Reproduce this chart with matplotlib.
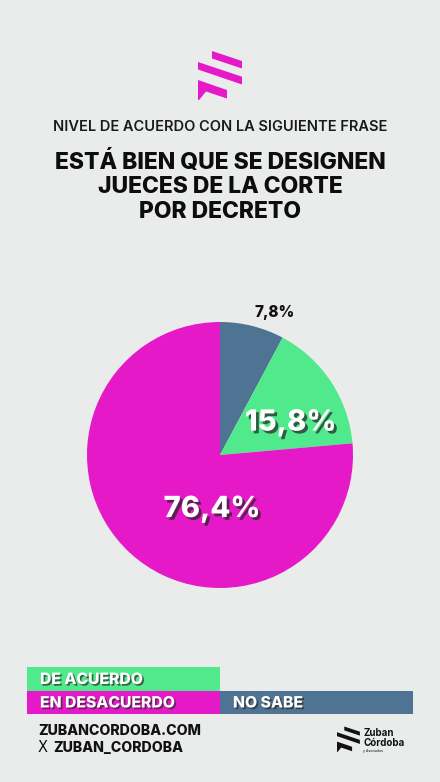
import matplotlib
matplotlib.use("Agg")
import matplotlib.pyplot as plt
from matplotlib.patches import Polygon, Rectangle
import matplotlib.patheffects as pe

# Datos del grafico
categorias = ["NO SABE", "DE ACUERDO", "EN DESACUERDO"]
valores = [7.8, 15.8, 76.4]
etiquetas = ["7,8%", "15,8%", "76,4%"]
colores = ["#4f7392", "#50ea8c", "#e619c9"]

subtitulo = "NIVEL DE ACUERDO CON LA SIGUIENTE FRASE"
titulo = ["ESTÁ BIEN QUE SE DESIGNEN", "JUECES DE LA CORTE", "POR DECRETO"]
web = "ZUBANCORDOBA.COM"
red = "ZUBAN_CORDOBA"

FONDO = "#e9eceb"
FUENTE = "Inter"
W, H = 440, 782

fig = plt.figure(figsize=(W / 100, H / 100), dpi=100, facecolor=FONDO)

# capa de fondo en coordenadas de pixel (y hacia abajo)
base = fig.add_axes([0, 0, 1, 1])
base.set_xlim(0, W)
base.set_ylim(H, 0)
base.axis("off")
base.set_facecolor(FONDO)

sombra = [pe.withSimplePatchShadow(offset=(1.2, -1.2), shadow_rgbFace="#2a2a2a", alpha=0.7)]


def logo(ax, x0, y0, esc, color):
    """Dibuja las tres franjas del logo a partir de la esquina (x0, y0)."""
    franjas = [
        [(14, 1), (44, 11), (44, 18.5), (14, 8.5)],
        [(0, 12), (44, 26.7), (44, 34.5), (0, 19.5)],
        [(0, 30), (29, 40), (29, 48.5), (8, 41.5), (1, 50), (0, 50)],
    ]
    for f in franjas:
        pts = [(x0 + px * esc, y0 + py * esc) for px, py in f]
        ax.add_patch(Polygon(pts, closed=True, color=color, lw=0))


logo(base, 198, 50, 1.0, colores[2])

base.text(W / 2, 127, subtitulo, ha="center", va="center", fontsize=10.5,
          family=FUENTE, weight="semibold", color="#1a1a1a")
for i, linea in enumerate(titulo):
    base.text(W / 2, 162 + i * 25, linea, ha="center", va="center", fontsize=16.5,
              family=FUENTE, weight="heavy", color="#0d0d0d")

# leyenda en bloques
leyenda = [
    (27, 667, 193, 24, colores[1], categorias[1], 40),
    (27, 691, 193, 23, colores[2], categorias[2], 40),
    (220, 691, 193, 23, colores[0], categorias[0], 233),
]
for x, y, w, h, c, txt, tx in leyenda:
    base.add_patch(Rectangle((x, y), w, h, color=c, lw=0))
    base.text(tx, y + h / 2 + 0.5, txt, ha="left", va="center", fontsize=11.3,
              family=FUENTE, weight="heavy", color="white", path_effects=sombra)

# pie de pagina
base.text(38, 731, web, ha="left", va="center", fontsize=10.2,
          family=FUENTE, weight="heavy", color="#111111")
base.text(38, 748, "X", ha="left", va="center", fontsize=10.5,
          family="DejaVu Sans", color="#111111")
base.text(53, 748, red, ha="left", va="center", fontsize=10.2,
          family=FUENTE, weight="heavy", color="#111111")

logo(base, 337, 726, 0.52, "#111111")
base.text(363, 733, "Zuban", ha="left", va="center", fontsize=7,
          family=FUENTE, weight="bold", color="#111111")
base.text(363, 743.5, "Córdoba", ha="left", va="center", fontsize=7,
          family=FUENTE, weight="bold", color="#111111")
base.text(363, 751, "y Asociados", ha="left", va="center", fontsize=2.5,
          family=FUENTE, color="#111111")

# grafico de torta
cx, cy, r = 220, 455, 133
ax = fig.add_axes([(cx - r) / W, (H - cy - r) / H, 2 * r / W, 2 * r / H])
ax.set_facecolor("none")
wedges, _ = ax.pie(valores, colors=colores, startangle=90, counterclock=False,
                   radius=1, wedgeprops=dict(linewidth=0))
ax.set_xlim(-1, 1)
ax.set_ylim(-1, 1)
ax.set_aspect("equal")
ax.axis("off")

pos_etiquetas = [(0.41, 1.07), (0.53, 0.24), (-0.06, -0.41)]
ax.text(*pos_etiquetas[0], etiquetas[0], ha="center", va="center", fontsize=11,
        family=FUENTE, weight="heavy", color="#111111")
for i in (1, 2):
    ax.text(*pos_etiquetas[i], etiquetas[i], ha="center", va="center", fontsize=21,
            family=FUENTE, weight="heavy", color="white",
            path_effects=[pe.withSimplePatchShadow(offset=(2, -2), shadow_rgbFace="#222222", alpha=0.7)])

fig.savefig("out.png", dpi=100, facecolor=FONDO)
